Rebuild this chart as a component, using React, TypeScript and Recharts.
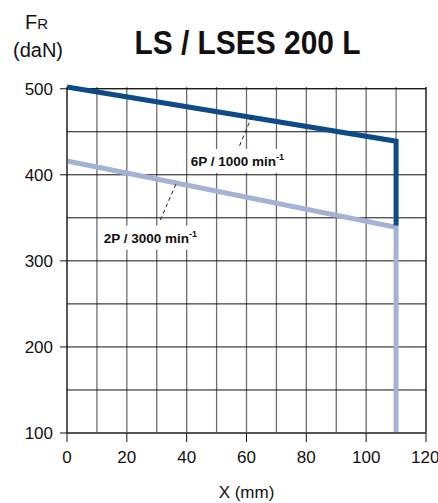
import React from 'react';
import {
    LineChart,
    Line,
    XAxis,
    YAxis,
    CartesianGrid,
    ReferenceLine,
    ReferenceDot,
} from 'recharts';

// read from the LS / LSES 200 L radial load chart
const series6P = [
    { x: 0, y: 502 },
    { x: 110, y: 439 },
    { x: 110, y: 341 },
];
const series2P = [
    { x: 0, y: 416 },
    { x: 110, y: 339 },
    { x: 110, y: 100 },
];
const xTicks = [0, 20, 40, 60, 80, 100, 120];
const yTicks = [100, 200, 300, 400, 500];
const xGrid = [0, 10, 20, 30, 40, 50, 60, 70, 80, 90, 100, 110, 120];
const yGrid = [100, 150, 200, 250, 300, 350, 400, 450, 500];

// annotation: label centre + dashed leader (data units)
const labels = [
    { name: '6P / 1000 min', x: 58.3, y: 416, w: 106, from: [61.8, 468], to: [57.6, 433] },
    { name: '2P / 3000 min', x: 29.2, y: 327, w: 108, from: [36.4, 389], to: [31.0, 346] },
];

const FONT = '"Liberation Sans", Arial, sans-serif';
const DARK = '#0c4a88';
const LIGHT = '#a4b2d4';

function BoxLabel(props) {
    const { cx, cy, text, w } = props;
    if (cx == null || cy == null) return null;
    return (
        <g>
            <rect x={cx - w / 2} y={cy - 12} width={w} height={24} fill="#fff" />
            <text x={cx - 4} y={cy + 5} textAnchor="middle" fontFamily={FONT} fontWeight="bold" fontSize={13.5} fill="#111">
                {text}
                <tspan dy={-6} fontSize={9}>-1</tspan>
            </text>
        </g>
    );
}

export default function App() {
    return (
        <div style={{ position: 'absolute', left: 0, top: 0, width: 438, height: 503, background: '#fff', fontFamily: FONT }}>
            <div style={{ position: 'absolute', left: 25, top: 11, fontSize: 20, color: '#111', lineHeight: '22px' }}>
                F<span style={{ fontSize: 15 }}>R</span>
            </div>
            <div style={{ position: 'absolute', left: 13, top: 39, fontSize: 20, color: '#111', lineHeight: '22px' }}>(daN)</div>
            <div style={{ position: 'absolute', left: 0, width: 495, top: 22, textAlign: 'center', lineHeight: '40px' }}>
                <span style={{ display: 'inline-block', fontSize: 34, fontWeight: 'bold', color: '#111', transform: 'scaleX(0.88)' }}>
                    LS / LSES 200 L
                </span>
            </div>
            <LineChart width={438} height={503} data={series2P} margin={{ top: 87, right: 12, bottom: 0, left: 0 }}>
                <CartesianGrid horizontal={false} verticalValues={xGrid} stroke="#6e6e6e" strokeWidth={1.3} />
                <CartesianGrid vertical={false} horizontalValues={yGrid} stroke="#111" strokeWidth={1} />
                <XAxis
                    dataKey="x"
                    type="number"
                    domain={[0, 120]}
                    ticks={xTicks}
                    tickSize={9}
                    tickMargin={9}
                    height={70}
                    axisLine={{ stroke: '#555', strokeWidth: 2 }}
                    tickLine={{ stroke: '#111' }}
                    tick={{ fontSize: 17, fill: '#111', fontFamily: FONT }}
                    label={{ value: 'X (mm)', position: 'insideBottom', offset: 5, fontSize: 17, fill: '#111', fontFamily: FONT }}
                />
                <YAxis
                    dataKey="y"
                    type="number"
                    domain={[100, 500]}
                    ticks={yTicks}
                    width={67}
                    tickSize={7}
                    tickMargin={7}
                    axisLine={{ stroke: '#111' }}
                    tickLine={{ stroke: '#111' }}
                    tick={{ fontSize: 17, fill: '#111', fontFamily: FONT }}
                />
                <ReferenceLine x={120} stroke="#111" />
                <ReferenceLine y={500} stroke="#111" />
                <Line data={series2P} dataKey="y" type="linear" stroke={LIGHT} strokeWidth={5} dot={false} isAnimationActive={false} />
                <Line data={series6P} dataKey="y" type="linear" stroke={DARK} strokeWidth={5} dot={false} isAnimationActive={false} />
                {labels.map((l) => (
                    <ReferenceLine
                        key={l.name + 'lead'}
                        segment={[{ x: l.from[0], y: l.from[1] }, { x: l.to[0], y: l.to[1] }]}
                        stroke="#222"
                        strokeDasharray="4 3"
                    />
                ))}
                {labels.map((l) => (
                    <ReferenceDot
                        key={l.name}
                        x={l.x}
                        y={l.y}
                        r={0}
                        shape={(p) => <BoxLabel cx={p.cx} cy={p.cy} text={l.name} w={l.w} />}
                    />
                ))}
            </LineChart>
        </div>
    );
}
